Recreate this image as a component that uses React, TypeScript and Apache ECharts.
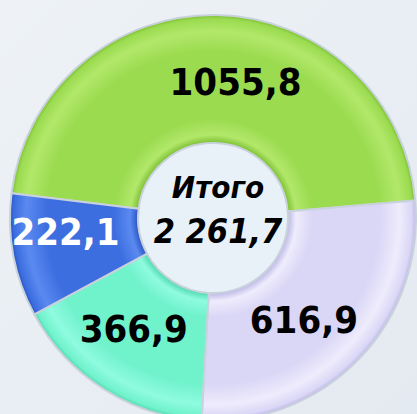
import React, { useEffect, useRef } from "react";
import * as echarts from "echarts";

const categories = ["A", "B", "C", "D"];
const values = [1055.8, 616.9, 366.9, 222.1];
const totalLabel = "Итого";

const baseColors = ["#9bdb50", "#dad6f6", "#70f2cb", "#3d6ee0"];
const lightColors = ["#b2e86a", "#eeecfc", "#8ffbe0", "#5a8af0"];
const darkColors = ["#7cbf34", "#bdb8e6", "#4fd9ae", "#2a55c4"];
const labelColors = ["#000000", "#000000", "#000000", "#ffffff"];
const labelShift: [number, number][] = [[20, 6], [-11, 3], [-3, -9], [-8, -12]];

const fmt = (v: number) => {
  const [i, d] = v.toFixed(1).split(".");
  return i.replace(/\B(?=(\d{3})+(?!\d))/g, " ") + "," + d;
};
const fmtShort = (v: number) => v.toFixed(1).replace(".", ",");

const CX = 213;
const CY = 218;
const R_IN = 75;
const R_OUT = 203;
const FONT = "'DejaVu Sans Condensed', 'DejaVu Sans', sans-serif";

export default function App() {
  const ref = useRef<HTMLDivElement>(null);
  useEffect(() => {
    if (!ref.current) return;
    const chart = echarts.init(ref.current, undefined, { renderer: "svg" });
    const total = values.reduce((a, b) => a + b, 0);
    const k = R_IN / R_OUT;
    const grad = (i: number) => ({
      type: "radial",
      x: CX,
      y: CY,
      r: R_OUT,
      global: true,
      colorStops: [
        { offset: 0, color: darkColors[i] },
        { offset: k, color: darkColors[i] },
        { offset: k + 0.04, color: lightColors[i] },
        { offset: k + 0.12, color: baseColors[i] },
        { offset: 0.82, color: baseColors[i] },
        { offset: 0.92, color: lightColors[i] },
        { offset: 0.98, color: baseColors[i] },
        { offset: 1, color: darkColors[i] },
      ],
    });
    chart.setOption({
      animation: false,
      backgroundColor: {
        type: "linear",
        x: 0,
        y: 0,
        x2: 1,
        y2: 1,
        colorStops: [
          { offset: 0, color: "#eef2f6" },
          { offset: 1, color: "#e4eaf1" },
        ],
      },
      graphic: [
        {
          type: "circle",
          shape: { cx: CX, cy: CY, r: R_IN },
          style: { fill: "#e9f1f8" },
          z: 0,
        },
        {
          type: "text",
          x: 218,
          y: 187,
          style: {
            text: totalLabel,
            font: "italic bold 31px " + FONT,
            fill: "#000",
            align: "center",
            verticalAlign: "middle",
          },
          z: 10,
        },
        {
          type: "text",
          x: 218,
          y: 231,
          style: {
            text: fmt(total),
            font: "italic bold 34px " + FONT,
            fill: "#000",
            align: "center",
            verticalAlign: "middle",
          },
          z: 10,
        },
      ],
      series: [
        {
          type: "pie",
          center: [CX, CY],
          radius: [R_IN, R_OUT],
          startAngle: 173,
          clockwise: true,
          silent: true,
          itemStyle: {
            borderColor: "#c9d2dc",
            borderWidth: 2,
          },
          label: {
            show: true,
            position: "inside",
            fontFamily: FONT,
            fontWeight: "bold",
            fontSize: 38,
            formatter: (p: any) => fmtShort(p.value),
          },
          labelLayout: (p: any) => ({
            dx: labelShift[p.dataIndex][0],
            dy: labelShift[p.dataIndex][1],
          }),
          labelLine: { show: false },
          data: values.map((v, i) => ({
            name: categories[i],
            value: v,
            itemStyle: { color: grad(i) },
            label: { color: labelColors[i] },
          })),
        },
      ],
    });
    return () => chart.dispose();
  }, []);
  return (
    <div
      ref={ref}
      style={{ position: "fixed", left: 0, top: 0, width: 417, height: 414 }}
    />
  );
}
